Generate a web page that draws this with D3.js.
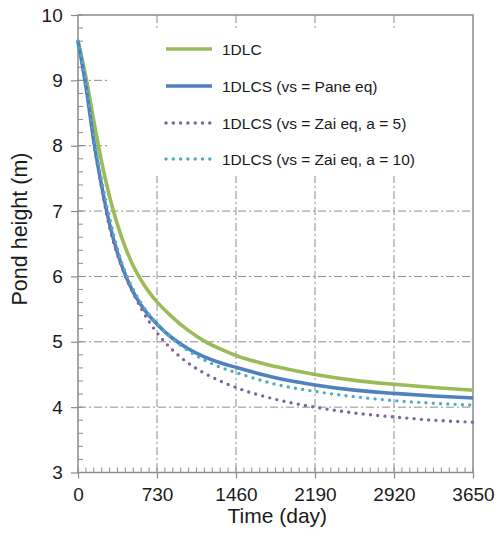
<!DOCTYPE html>
<html><head><meta charset="utf-8">
<script src="https://cdn.jsdelivr.net/npm/d3@7"></script>
<style>body{margin:0;background:#fff}svg{display:block}text{font-family:"Liberation Sans",Arial,sans-serif;fill:#1a1a1a}</style>
</head><body><svg id="c" width="497" height="537"></svg>
<script>
const times = [0,73,146,219,292,365,438,511,584,657,730,876,1022,1168,1314,1460,1825,2190,2555,2920,3285,3650];
const s1DLC      = [9.60,9.05,8.38,7.75,7.22,6.79,6.44,6.16,5.94,5.76,5.61,5.37,5.17,5.01,4.89,4.79,4.62,4.50,4.41,4.35,4.30,4.26];
const s1DLCSPane = [9.60,8.91,8.07,7.38,6.80,6.36,6.02,5.76,5.56,5.40,5.27,5.05,4.89,4.77,4.68,4.61,4.45,4.34,4.26,4.21,4.17,4.14];
const s1DLCSZai5 = [9.60,8.90,8.05,7.35,6.75,6.33,6.00,5.74,5.51,5.31,5.14,4.87,4.67,4.52,4.40,4.30,4.12,4.00,3.91,3.85,3.80,3.77];
const s1DLCSZai10= [9.60,8.97,8.15,7.47,6.90,6.42,6.06,5.80,5.59,5.42,5.28,5.04,4.86,4.72,4.61,4.53,4.35,4.24,4.16,4.10,4.06,4.03];
const seriesNames = ["1DLC","1DLCS (vs = Pane eq)","1DLCS (vs = Zai eq, a = 5)","1DLCS (vs = Zai eq, a = 10)"];
const seriesColors = ["#9BBB59","#4F81BD","#8064A2","#4BACC6"];
const xTicks = [0,730,1460,2190,2920,3650];
const yTicks = [3,4,5,6,7,8,9,10];
const xTitle = "Time (day)", yTitle = "Pond height (m)";

const svg = d3.select("#c");
const L=78,R=473,T=15,B=472.5;
const x = d3.scaleLinear().domain([0,3650]).range([L,R]);
const y = d3.scaleLinear().domain([3,10]).range([B,T]);
const grid = "#8c8c8c";

// gridlines
svg.append("g").selectAll("line").data(xTicks.slice(1,-1)).join("line")
  .attr("x1",d=>x(d)).attr("x2",d=>x(d)).attr("y1",T).attr("y2",B)
  .attr("stroke",grid).attr("stroke-width",1).attr("stroke-dasharray","8,3,2,3");
svg.append("g").selectAll("line").data(yTicks.slice(1,-1)).join("line")
  .attr("x1",L).attr("x2",R).attr("y1",d=>y(d)).attr("y2",d=>y(d))
  .attr("stroke",grid).attr("stroke-width",1).attr("stroke-dasharray","8,3,2,3");

// legend background
svg.append("rect").attr("x",110).attr("y",30).attr("width",361).attr("height",146).attr("fill","#fff");

// minor ticks (inward)
const xMinor = d3.range(0,3650+1,73);
svg.append("g").selectAll("line").data(xMinor).join("line")
  .attr("x1",d=>x(d)).attr("x2",d=>x(d)).attr("y1",B).attr("y2",B-5)
  .attr("stroke",grid).attr("stroke-width",1);
const yMinor = d3.range(3,10.001,0.2);
svg.append("g").selectAll("line").data(yMinor).join("line")
  .attr("x1",L).attr("x2",L+5).attr("y1",d=>y(d)).attr("y2",d=>y(d))
  .attr("stroke",grid).attr("stroke-width",1);

// axes with outward major ticks
const xAxis = d3.axisBottom(x).tickValues(xTicks).tickSize(6).tickPadding(9.5).tickFormat(d3.format("d"));
const yAxis = d3.axisLeft(y).tickValues(yTicks).tickSize(7).tickPadding(8.3).tickFormat(d3.format("d"));
const gx = svg.append("g").attr("transform",`translate(0,${B})`).call(xAxis);
const gy = svg.append("g").attr("transform",`translate(${L},0)`).call(yAxis);
[gx,gy].forEach(g=>{
  g.select(".domain").remove();
  g.selectAll(".tick line").attr("stroke",grid).attr("stroke-width",1.2);
  g.selectAll("text").style("font-size","19px").style("font-family","Liberation Sans, Arial, sans-serif").attr("fill","#1a1a1a");
});
// frame
svg.append("rect").attr("x",L).attr("y",T).attr("width",R-L).attr("height",B-T)
  .attr("fill","none").attr("stroke",grid).attr("stroke-width",1.5);

// lines
const line = d3.line().x((d,i)=>x(times[i])).y(d=>y(d)).curve(d3.curveMonotoneX);
const data = [s1DLC,s1DLCSPane,s1DLCSZai5,s1DLCSZai10];
const dashed = [false,false,true,true];
data.forEach((s,k)=>{
  const p = svg.append("path").attr("d",line(s)).attr("fill","none")
    .attr("stroke",seriesColors[k]);
  if(dashed[k]) p.attr("stroke-width",3.4).attr("stroke-dasharray","0,7.3").attr("stroke-linecap","round");
  else p.attr("stroke-width",3.6);
});

// legend
const ly = [49,86,123,159];
seriesNames.forEach((n,k)=>{
  const l = svg.append("line").attr("x1",166).attr("x2",212).attr("y1",ly[k]).attr("y2",ly[k])
    .attr("stroke",seriesColors[k]);
  if(dashed[k]) l.attr("stroke-width",3.4).attr("stroke-dasharray","0,7.3").attr("stroke-linecap","round");
  else l.attr("stroke-width",3.6);
  svg.append("text").attr("x",222).attr("y",ly[k]+5.5).style("font-size","15.5px").text(n);
});

// titles
svg.append("text").attr("x",277.3).attr("y",522.5).attr("text-anchor","middle").style("font-size","21px").text(xTitle);
svg.append("text").attr("transform","translate(27,229) rotate(-90)").attr("text-anchor","middle").style("font-size","21.5px").text(yTitle);
</script></body></html>
